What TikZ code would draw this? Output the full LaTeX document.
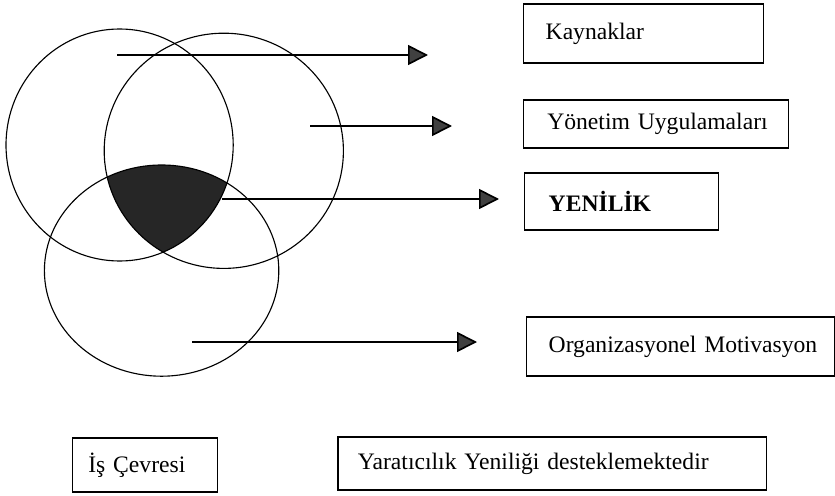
\documentclass[tikz,border=0pt]{standalone}
\usepackage{fontspec}
\setmainfont{Liberation Serif}
\usetikzlibrary{arrows.meta}

\begin{document}
\begin{tikzpicture}[
    kutu/.style={draw,line width=1pt,anchor=west,align=left,inner ysep=0pt,font=\fontsize{16.8}{20}\selectfont},
    ok/.style={line width=1.2pt,-{Triangle[length=0.5cm,width=0.5cm,fill=black!75]}},
    halka/.style={line width=0.8pt}]
            \useasboundingbox (0,0) rectangle (20.875,12.375);
            \begin{scope}
            \clip (2.99,8.75) ellipse (2.84 and 2.9);
            \clip (5.595,8.605) ellipse (2.99 and 2.94);
            \fill[black!85] (4.04,5.61) ellipse (2.93 and 2.64);
            \end{scope}
            \draw[halka] (2.99,8.75) ellipse (2.84 and 2.9);
            \draw[halka] (5.595,8.605) ellipse (2.99 and 2.94);
            \draw[halka] (4.04,5.61) ellipse (2.93 and 2.64);
            \node[kutu,text width=4.9cm,minimum height=1.475cm,inner xsep=0.55cm] (kaynak) at (13.075,11.5375) {\mbox{Kaynaklar}};
            \node[kutu,text width=5.445cm,minimum height=1.2cm,inner xsep=0.59cm] (yonetim) at (13.075,9.275) {\mbox{Yönetim Uygulamaları}};
            \node[kutu,text width=3.65cm,minimum height=1.425cm,inner xsep=0.6cm] (yenilik) at (13.1,7.3375) {\mbox{\textbf{YENİLİK}}};
            \node[kutu,text width=6.6cm,minimum height=1.475cm,inner xsep=0.55cm] (motiv) at (13.15,3.7125) {\mbox{Organizasyonel Motivasyon}};
            \node[kutu,text width=2.825cm,minimum height=1.35cm,inner xsep=0.4cm] (cevre) at (1.79,0.75) {\mbox{İş Çevresi}};
            \node[kutu,text width=9.72cm,minimum height=1.325cm,inner xsep=0.5cm] (yaratici) at (8.43,0.7875) {\mbox{Yaratıcılık Yeniliği desteklemektedir}};
            \coordinate (k0) at (2.925,11.0); \coordinate (k1) at (10.7,11.0);
            \coordinate (y0) at (7.75,9.225); \coordinate (y1) at (11.3,9.225);
            \coordinate (n0) at (5.55,7.4); \coordinate (n1) at (12.475,7.4);
            \coordinate (m0) at (4.8,3.825); \coordinate (m1) at (11.925,3.825);
            \draw[ok] (k0)--(k1);
            \draw[ok] (y0)--(y1);
            \draw[ok] (n0)--(n1);
            \draw[ok] (m0)--(m1);
        \end{tikzpicture}
\end{document}
